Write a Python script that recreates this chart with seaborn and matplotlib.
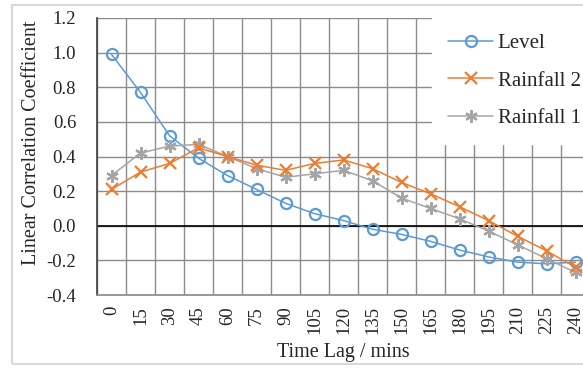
import numpy as np
import pandas as pd
import matplotlib
matplotlib.use("Agg")
import matplotlib.pyplot as plt
from matplotlib.patches import Rectangle
import seaborn as sns

# datos
lags = [0, 15, 30, 45, 60, 75, 90, 105, 120, 135, 150, 165, 180, 195, 210, 225, 240]
level = [0.99, 0.77, 0.52, 0.39, 0.29, 0.21, 0.13, 0.07, 0.03, -0.02, -0.05, -0.09,
         -0.14, -0.18, -0.21, -0.22, -0.21]
rain2 = [0.21, 0.31, 0.36, 0.45, 0.40, 0.35, 0.32, 0.36, 0.38, 0.33, 0.25, 0.185,
         0.11, 0.03, -0.06, -0.145, -0.24]
rain1 = [0.29, 0.42, 0.46, 0.47, 0.40, 0.33, 0.28, 0.30, 0.32, 0.26, 0.16, 0.10,
         0.04, -0.03, -0.11, -0.19, -0.27]
yticks = [-0.4, -0.2, 0.0, 0.2, 0.4, 0.6, 0.8, 1.0, 1.2]

pos = np.arange(len(lags))
df = pd.DataFrame({"pos": pos, "Level": level, "Rainfall 2": rain2, "Rainfall 1": rain1})

sns.set_theme(style="white")
plt.rcParams["font.family"] = ["Liberation Serif", "DejaVu Serif"]

fig = plt.figure(figsize=(5.83, 3.71), dpi=100)
ax = fig.add_axes([97 / 583, 1 - 295 / 371, 493 / 583, (295 - 18) / 371])

# marco exterior gris claro
fig.patches.append(Rectangle((12 / 583, 1 - 364 / 371), 0.99, (364 - 5) / 371,
                             transform=fig.transFigure, fill=False,
                             edgecolor="#D9D9D9", linewidth=1.5))

series = [
    ("Level", "#5B9BD5", "o", dict(markerfacecolor="none", markeredgewidth=1.6, markersize=8)),
    ("Rainfall 1", "#A5A5A5", (6, 2, 0), dict(markeredgewidth=1.6, markersize=9)),
    ("Rainfall 2", "#ED7D31", "x", dict(markeredgewidth=1.6, markersize=8)),
]
for name, col, mk, kw in series:
    sns.lineplot(data=df, x="pos", y=name, ax=ax, color=col, marker=mk,
                 markeredgecolor=col, linewidth=1.1, label=name, zorder=3, **kw)

ax.set_xlim(-0.5, len(lags) - 0.5)
ax.set_ylim(-0.4, 1.2)
ax.set_yticks(yticks)
ax.set_yticklabels([f"{v:.1f}" for v in yticks], fontsize=13.5)
ax.set_xticks(pos)
ax.set_xticklabels([str(v) for v in lags], rotation=90, fontsize=13.5)
ax.set_xticks(np.arange(-0.5, len(lags), 1), minor=True)
ax.grid(False)
ax.grid(True, which="minor", axis="x", color="#8C8C8C", linewidth=1.0)
ax.grid(True, which="major", axis="y", color="#8C8C8C", linewidth=1.0)
ax.axhline(0, color="black", linewidth=1.2, zorder=2)
ax.tick_params(axis="y", which="both", length=0, pad=15)
ax.tick_params(axis="x", which="both", length=0, pad=8)
for s in ["top", "right"]:
    ax.spines[s].set_visible(False)
ax.spines["left"].set_color("#444444")
ax.spines["bottom"].set_color("#8C8C8C")

ax.set_xlabel("Time Lag / mins", fontsize=14.5, labelpad=6)
ax.set_ylabel("Linear Correlation Coefficient", fontsize=14.5)
ax.yaxis.set_label_coords(41 / 583, 1 - 143 / 371, transform=fig.transFigure)

h, l = ax.get_legend_handles_labels()
order = [l.index("Level"), l.index("Rainfall 2"), l.index("Rainfall 1")]
leg = ax.legend([h[i] for i in order], [l[i] for i in order],
                loc="upper left", bbox_to_anchor=(432 / 583, 1 - 18 / 371),
                bbox_transform=fig.transFigure, borderaxespad=0, frameon=True,
                fancybox=False, framealpha=1, edgecolor="white", fontsize=15,
                handlelength=2.2, handletextpad=0.2, labelspacing=0.86, borderpad=0.75)

fig.savefig("out.png", dpi=100)
